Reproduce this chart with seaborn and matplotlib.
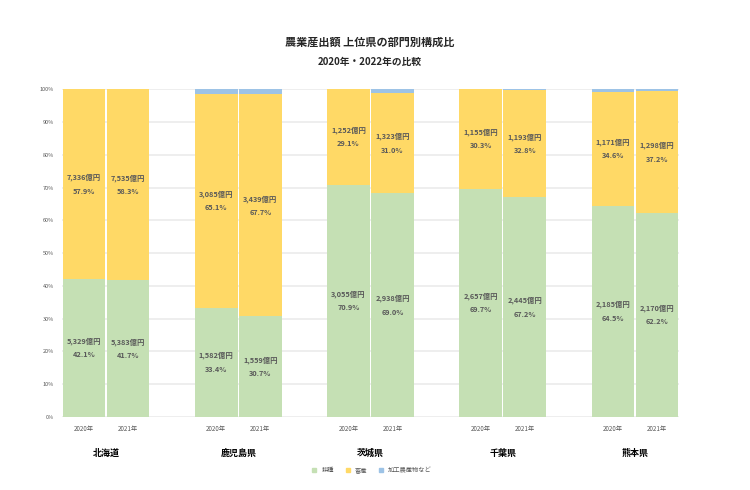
import matplotlib
matplotlib.use('Agg')
import matplotlib.pyplot as plt
from matplotlib.lines import Line2D
import seaborn as sns
import pandas as pd

# データ(億円・構成比%)
prefectures = ['北海道', '鹿児島県', '茨城県', '千葉県', '熊本県']
years = ['2020年', '2021年']
crop_oku = [5329, 5383, 1582, 1559, 3055, 2938, 2657, 2445, 2185, 2170]
crop_pct = [42.1, 41.7, 33.4, 30.7, 70.9, 69.0, 69.7, 67.2, 64.5, 62.2]
livestock_oku = [7336, 7535, 3085, 3439, 1252, 1323, 1155, 1193, 1171, 1298]
livestock_pct = [57.9, 58.3, 65.1, 67.7, 29.1, 31.0, 30.3, 32.8, 34.6, 37.2]
processed_pct = [0.0, 0.0, 1.5, 1.6, 0.0, 1.2, 0.0, 0.3, 0.9, 0.6]
series_names = ['耕種', '畜産', '加工農産物など']
colors = ['#C5E0B4', '#FFD966', '#9DC3E6']

sns.set_style('white')
plt.rcParams['font.family'] = ['Noto Sans CJK JP', 'DejaVu Sans']

# 県ごとに2本 + 空きスロット1つ
rows = []
order = []
i = 0
for p in prefectures:
    for y in years:
        tot = crop_pct[i] + livestock_pct[i] + processed_pct[i]
        g = crop_pct[i] / tot * 100
        l = livestock_pct[i] / tot * 100
        rows.append({'slot': p + y, 'pref': p, 'year': y,
                     'green': g, 'yellow': g + l, 'top': 100.0,
                     'c_oku': crop_oku[i], 'c_pct': crop_pct[i],
                     'l_oku': livestock_oku[i], 'l_pct': livestock_pct[i]})
        order.append(p + y)
        i += 1
    order.append(p + '_gap')
order = order[:-1]
df = pd.DataFrame(rows)

fig = plt.figure(figsize=(7.5, 4.9), dpi=100)
ax = fig.add_axes([0.0827, 0.149, 0.8226, 0.669])

for col, c in zip(['top', 'yellow', 'green'], colors[::-1]):
    sns.barplot(data=df, x='slot', y=col, order=order, color=c, width=0.97,
                saturation=1, linewidth=0, ax=ax)
for patch in ax.patches:
    patch.set_zorder(2)

# ラベル
txt_kw = dict(ha='center', va='center', fontsize=5.3, fontweight='bold', color='#595959',
              textcoords='offset points', zorder=3)
for _, r in df.iterrows():
    x = order.index(r['slot'])
    cy = r['green'] / 2
    ax.annotate(f"{r['c_oku']:,}億円", (x, cy), xytext=(0, 4.8), **txt_kw)
    ax.annotate(f"{r['c_pct']:.1f}%", (x, cy), xytext=(0, -5), **txt_kw)
    cy = (r['green'] + r['yellow']) / 2
    ax.annotate(f"{r['l_oku']:,}億円", (x, cy), xytext=(0, 4.8), **txt_kw)
    ax.annotate(f"{r['l_pct']:.1f}%", (x, cy), xytext=(0, -5), **txt_kw)

ax.set_ylim(0, 100)
ax.set_xlim(-0.5, len(order) - 0.5)
ax.set_yticks(range(0, 101, 10))
ax.set_yticklabels([f'{v}%' for v in range(0, 101, 10)], fontsize=4, color='#595959')
ax.yaxis.grid(True, color='#EDEDED', linewidth=1.3)
ax.set_axisbelow(True)
for gl in ax.get_ygridlines():
    gl.set_zorder(0.5)
ax.set_xticks([order.index(s) for s in df['slot']])
ax.set_xticklabels(df['year'], fontsize=4.5, color='#595959')
ax.tick_params(length=0, pad=6)
ax.set_xlabel('')
ax.set_ylabel('')
sns.despine(ax=ax, left=True, bottom=True)

for k, p in enumerate(prefectures):
    ax.text(k * 3 + 0.5, -11, p, ha='center', va='center', fontsize=6.5,
            fontweight='bold', color='black', clip_on=False)

fig.text(0.493, 0.914, '農業産出額 上位県の部門別構成比', ha='center', va='center',
         fontsize=8, fontweight='bold')
fig.text(0.493, 0.873, '2020年・2022年の比較', ha='center', va='center',
         fontsize=7, fontweight='bold')

handles = [Line2D([], [], marker='s', linestyle='', color=c, markersize=3) for c in colors]
fig.legend(handles, series_names, loc='center', bbox_to_anchor=(0.493, 0.04), ncol=3,
           frameon=False, fontsize=4.5, handletextpad=0.1, columnspacing=1.2,
           labelcolor='#595959')

fig.savefig('out.png', dpi=100)
